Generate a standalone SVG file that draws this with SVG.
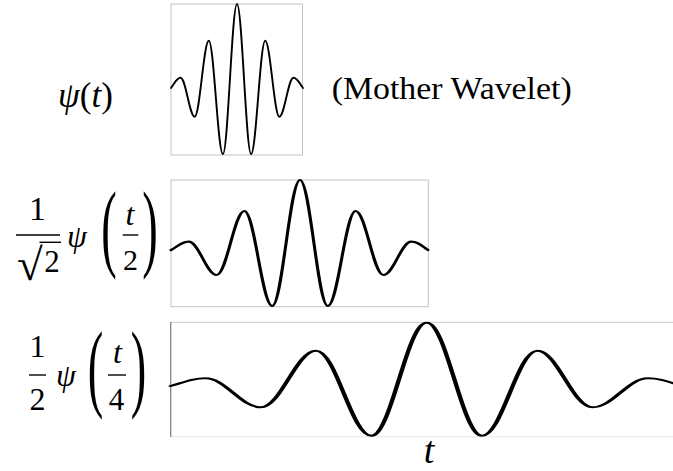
<svg xmlns="http://www.w3.org/2000/svg" width="673" height="471" viewBox="0 0 673 471">
<style>
text { font-family: "Liberation Serif", "Times New Roman", serif; fill: #000; }
.i { font-style: italic; }
.frame { fill: none; stroke: #c4c4c4; stroke-width: 1; }
.wave { fill: none; stroke: #000; stroke-linejoin: round; stroke-linecap: round; }
.bar { stroke: #000; stroke-width: 1.4; }
</style>
<rect width="673" height="471" fill="#fff"/>

<g id="label-mother">
  <text x="58" y="107" font-size="35"><tspan class="i">ψ</tspan>(<tspan class="i">t</tspan>)</text>
  <text x="331.7" y="98.5" font-size="31" textLength="240" lengthAdjust="spacingAndGlyphs">(Mother Wavelet)</text>
</g>

<g id="plot-mother">
  <rect class="frame" x="171" y="4" width="131.5" height="151"/>
  <path class="wave" stroke-width="1.9" d="M171,88 C174.5,83.5 176.5,77.7 180.6,77.7 C185.7,77.7 189.6,116.7 194.7,116.7 C199.8,116.7 203.7,40.7 208.8,40.7 C213.9,40.7 217.8,154 222.9,154 C228,154 231.9,4 237,4 C242.1,4 246,154 251.1,154 C256.2,154 260.1,40.7 265.2,40.7 C270.3,40.7 274.2,116.7 279.3,116.7 C284.4,116.7 288.3,77.7 293.4,77.7 C297.5,77.7 299.5,83.5 303,88"/>
</g>

<g id="label-scale2">
  <text x="37.5" y="220" font-size="34" text-anchor="middle">1</text>
  <line class="bar" x1="16" y1="235" x2="60" y2="235"/>
  <text transform="translate(17,280) scale(1.3,1.24)" font-size="36">√</text>
  <line class="bar" x1="39.5" y1="242.3" x2="61" y2="242.3"/>
  <text x="52" y="271.7" font-size="31" text-anchor="middle">2</text>
  <text class="i" x="67" y="247" font-size="32">ψ</text>
  <text transform="translate(109,259) scale(1.5,3.13)" font-size="31" text-anchor="middle">(</text>
  <text class="i" x="130" y="225" font-size="32" text-anchor="middle">t</text>
  <line class="bar" x1="122.7" y1="235" x2="138.3" y2="235"/>
  <text x="130.5" y="270" font-size="30" text-anchor="middle">2</text>
  <text transform="translate(150,259) scale(1.5,3.13)" font-size="31" text-anchor="middle">)</text>
</g>

<g id="plot-scale2">
  <rect class="frame" x="171" y="180" width="257.3" height="126.7"/>
  <g transform="translate(300,0) scale(1.4,1)">
    <path class="wave" stroke-width="2.2" d="M-92.14,250 C-87.5,246.5 -84.6,241.7 -79.43,241.7 C-72.2,241.7 -66.8,275 -59.57,275 C-52.34,275 -46.94,211 -39.71,211 C-32.48,211 -27.08,306 -19.86,306 C-12.63,306 -7.23,180 0,180 C7.23,180 12.63,306 19.86,306 C27.08,306 32.480,211 39.71,211 C46.94,211 52.34,275 59.57,275 C66.8,275 72.2,241.7 79.43,241.7 C84.6,241.7 87.5,246.5 91.43,250"/>
  </g>
</g>

<g id="label-scale4">
  <text x="37.5" y="357" font-size="32" text-anchor="middle">1</text>
  <line class="bar" x1="29" y1="375" x2="46" y2="375"/>
  <text x="37.5" y="410" font-size="32" text-anchor="middle">2</text>
  <text class="i" x="56" y="386" font-size="32">ψ</text>
  <text transform="translate(95.5,399) scale(1.5,3.13)" font-size="31" text-anchor="middle">(</text>
  <text class="i" x="117.5" y="363" font-size="32" text-anchor="middle">t</text>
  <line class="bar" x1="108" y1="375" x2="126" y2="375"/>
  <text x="116.5" y="410" font-size="31" text-anchor="middle">4</text>
  <text transform="translate(138.5,399) scale(1.5,3.13)" font-size="31" text-anchor="middle">)</text>
</g>

<g id="plot-scale4">
  <line x1="170.7" y1="322.3" x2="673" y2="322.3" stroke="#c8c8c8" stroke-width="1"/>
  <line x1="170.7" y1="436.8" x2="673" y2="436.8" stroke="#e6e6e6" stroke-width="1"/>
  <line x1="170.7" y1="322" x2="170.7" y2="437" stroke="#7a7a7a" stroke-width="1.2"/>
  <g transform="translate(426.7,0) scale(2.2,1)">
    <path class="wave" stroke-width="2" d="M-116.36,386 C-111,382.8 -106.5,378.3 -100.55,378.3 C-91.4,378.3 -84.56,407.3 -75.41,407.3 C-66.26,407.3 -59.42,350.7 -50.27,350.7 C-41.12,350.7 -34.29,435.7 -25.14,435.7 C-15.99,435.7 -9.15,322.7 0,322.7 C9.15,322.7 15.99,435.7 25.14,435.7 C34.29,435.7 41.12,350.7 50.27,350.7 C59.42,350.7 66.26,407.3 75.41,407.3 C84.56,407.3 91.4,378.3 100.55,378.3 C106.5,378.3 111,382.8 116.36,386"/>
  </g>
  <text class="i" x="429" y="462.5" font-size="38" text-anchor="middle">t</text>
</g>
</svg>
